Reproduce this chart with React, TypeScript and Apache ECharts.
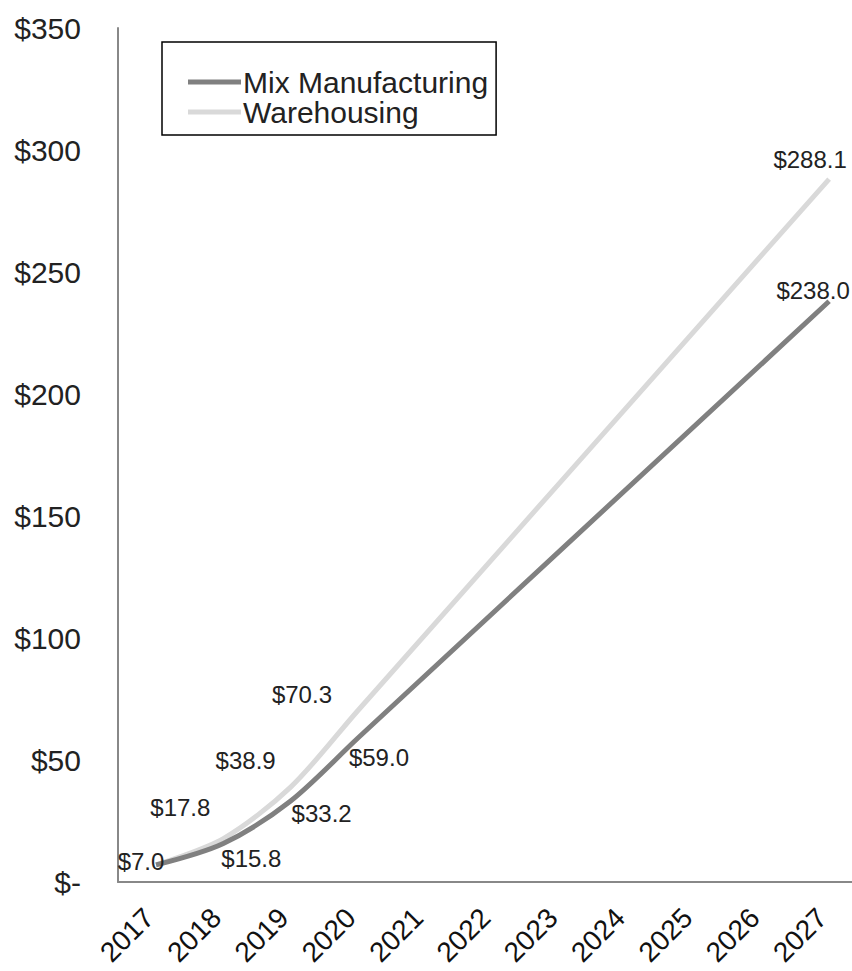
import React, { useEffect, useRef } from 'react';
import * as echarts from 'echarts';

// ---- data ----
const tickYears = [2017, 2018, 2019, 2020, 2021, 2022, 2023, 2024, 2025, 2026, 2027];
const dataYears = [2017, 2018, 2019, 2020, 2027];
const mixValues = [7.0, 15.8, 33.2, 59.0, 238.0];
const warehousingValues = [7.0, 17.8, 38.9, 70.3, 288.1];
const seriesNames = ['Mix Manufacturing', 'Warehousing'];
const yMin = 0;
const yMax = 350;
const yStep = 50;

// ---- label placement (style only) ----
const mixLabelOffsets: (number[] | null)[] = [[-15, -3], [28, 15], [31, 13], [21, 19], [-16, -11]];
const whLabelOffsets: (number[] | null)[] = [null, [-43, -31], [-45, -27], [-56, -16], [-19, -20]];

const FONT = '"Liberation Sans", Arial, sans-serif';

function buildData(values: number[], offsets: (number[] | null)[]) {
  return dataYears.map((y, i) => ({
    value: [y, values[i]],
    label: offsets[i] ? { show: true, offset: offsets[i] } : { show: false },
  }));
}

export default function App() {
  const ref = useRef<HTMLDivElement>(null);
  useEffect(() => {
    const chart = echarts.init(ref.current!, null, { renderer: 'svg' });
    const labelCommon = {
      show: true,
      position: 'inside',
      align: 'center',
      verticalAlign: 'middle',
      fontSize: 24,
      fontFamily: FONT,
      color: '#222',
      formatter: (p: any) => '$' + Number(p.value[1]).toFixed(1),
    };
    chart.setOption({
      animation: false,
      backgroundColor: '#ffffff',
      grid: { left: 118, top: 28, right: 0, bottom: 89, containLabel: false },
      legend: {
        orient: 'vertical',
        left: 162,
        top: 42,
        padding: [25, 8, 8, 26],
        itemGap: 0,
        borderColor: '#000',
        borderWidth: 1.5,
        itemWidth: 53,
        itemHeight: 5,
        icon: 'rect',
        textStyle: { fontSize: 30, fontFamily: FONT, color: '#222', padding: [0, 0, 0, -3] },
        data: [
          { name: seriesNames[0], itemStyle: { color: '#808080', opacity: 1 } },
          { name: seriesNames[1], itemStyle: { color: '#d9d9d9', opacity: 1 } },
        ],
      },
      xAxis: {
        type: 'value',
        min: 2016.435,
        max: 2027.34,
        splitLine: { show: false },
        axisLine: { show: true, lineStyle: { color: '#888', width: 2 } },
        axisTick: { show: false },
        axisLabel: {
          customValues: tickYears,
          rotate: 45,
          margin: 24,
          padding: [0, 10, 0, 0],
          fontSize: 28,
          fontFamily: FONT,
          color: '#111',
          formatter: (v: number) => String(Math.round(v)),
        },
      },
      yAxis: {
        type: 'value',
        min: yMin,
        max: yMax,
        interval: yStep,
        splitLine: { show: false },
        axisLine: { show: true, lineStyle: { color: '#888', width: 2 } },
        axisTick: { show: false },
        axisLabel: {
          margin: 37,
          fontSize: 30,
          fontFamily: FONT,
          color: '#222',
          formatter: (v: number) => (v === 0 ? '$-' : '$' + v),
        },
      },
      series: [
        {
          name: seriesNames[1],
          type: 'line',
          smooth: 0.3,
          z: 2,
          symbol: 'circle',
          symbolSize: 2,
          itemStyle: { color: 'rgba(0,0,0,0)' },
          lineStyle: { color: '#d9d9d9', width: 5 },
          label: labelCommon,
          data: buildData(warehousingValues, whLabelOffsets),
        },
        {
          name: seriesNames[0],
          type: 'line',
          smooth: 0.3,
          z: 3,
          symbol: 'circle',
          symbolSize: 2,
          itemStyle: { color: 'rgba(0,0,0,0)' },
          lineStyle: { color: '#808080', width: 5 },
          label: labelCommon,
          data: buildData(mixValues, mixLabelOffsets),
        },
      ],
    });
    return () => chart.dispose();
  }, []);
  return (
    <div
      ref={ref}
      style={{ position: 'fixed', left: 0, top: 0, width: 852, height: 971, background: '#fff' }}
    />
  );
}
